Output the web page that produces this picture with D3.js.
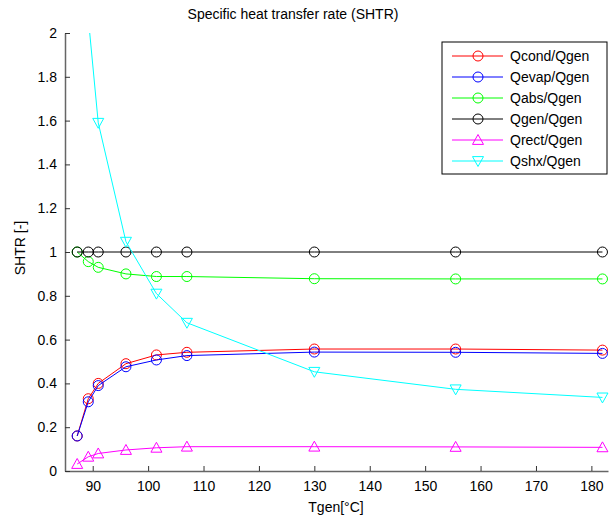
<!DOCTYPE html>
<html>
<head>
<meta charset="utf-8">
<script src="https://cdn.jsdelivr.net/npm/d3@7"></script>
<style>
  body { margin: 0; background: #fff; }
  svg { font-family: "Liberation Sans", Arial, sans-serif; }
</style>
</head>
<body>
<div id="chart"></div>
<script>
'use strict';

// ── Data ─────────────────────────────────────────────────────
const tgen = [87.2, 89.2, 91, 96, 101.5, 107, 130, 155.5, 182];

const qcond = [0.16, 0.33, 0.40, 0.49, 0.53, 0.542, 0.557, 0.557, 0.552];
const qevap = [0.16, 0.316, 0.39, 0.476, 0.507, 0.527, 0.543, 0.542, 0.537];
const qabs  = [1.0, 0.956, 0.93, 0.90, 0.888, 0.888, 0.878, 0.877, 0.877];
const qgen  = [1, 1, 1, 1, 1, 1, 1, 1, 1];
const qrect = [0.032, 0.065, 0.08, 0.096, 0.106, 0.111, 0.111, 0.11, 0.108];
const qshx  = [3.0, 2.07, 1.59, 1.047, 0.81, 0.677, 0.453, 0.373, 0.336];

const seriesNames  = ['Qcond/Qgen', 'Qevap/Qgen', 'Qabs/Qgen', 'Qgen/Qgen', 'Qrect/Qgen', 'Qshx/Qgen'];
const seriesValues = [qcond, qevap, qabs, qgen, qrect, qshx];
const seriesColors = ['#ff0000', '#0000ff', '#00ff00', '#000000', '#ff00ff', '#00ffff'];
const seriesMarker = ['circle', 'circle', 'circle', 'circle', 'triUp', 'triDown'];

const xTicks = [90, 100, 110, 120, 130, 140, 150, 160, 170, 180];
const yTicks = [0, 0.2, 0.4, 0.6, 0.8, 1, 1.2, 1.4, 1.6, 1.8, 2];

// ── Layout ───────────────────────────────────────────────────
const totalW = 609, totalH = 522;
const margin = { top: 33, right: 1, bottom: 51, left: 65 };
const W = totalW - margin.left - margin.right;
const H = totalH - margin.top - margin.bottom;

const svg = d3.select('#chart').append('svg')
  .attr('width', totalW)
  .attr('height', totalH);

const chart = svg.append('g')
  .attr('transform', `translate(${margin.left},${margin.top})`);

const x = d3.scaleLinear().domain([85, 183]).range([0, W]);
const y = d3.scaleLinear().domain([0, 2]).range([H, 0]);

svg.append('defs').append('clipPath').attr('id', 'plot-clip')
  .append('rect').attr('x', 0).attr('y', 0).attr('width', W + 6).attr('height', H);

// ── Axes (ticks inside, MATLAB style) ────────────────────────
const xAxis = chart.append('g')
  .attr('transform', `translate(0,${H})`)
  .call(d3.axisBottom(x).tickValues(xTicks).tickSizeInner(-5).tickSizeOuter(0).tickPadding(10));

const yAxis = chart.append('g')
  .call(d3.axisLeft(y).tickValues(yTicks).tickSizeInner(-5).tickSizeOuter(0).tickPadding(8)
    .tickFormat(d => d3.format('~g')(d)));

[xAxis, yAxis].forEach(a => {
  a.select('.domain').attr('stroke', '#666').attr('stroke-width', 1.5);
  a.selectAll('.tick line').attr('stroke', '#333');
  a.selectAll('.tick text').attr('font-size', 14).attr('fill', '#000')
    .attr('font-family', '"Liberation Sans", Arial, sans-serif');
});

// ── Marker shapes ────────────────────────────────────────────
function drawMarker(g, kind, cx, cy, color) {
  if (kind === 'circle') {
    g.append('circle').attr('cx', cx).attr('cy', cy).attr('r', 5)
      .attr('fill', 'none').attr('stroke', color).attr('stroke-width', 1);
  } else {
    const s = 5.5;
    const pts = kind === 'triUp'
      ? [[cx, cy - s], [cx - s, cy + s * 0.8], [cx + s, cy + s * 0.8]]
      : [[cx, cy + s], [cx - s, cy - s * 0.8], [cx + s, cy - s * 0.8]];
    g.append('polygon').attr('points', pts.map(p => p.join(',')).join(' '))
      .attr('fill', 'none').attr('stroke', color).attr('stroke-width', 1);
  }
}

// ── Series ───────────────────────────────────────────────────
const line = d3.line().x(d => x(d[0])).y(d => y(d[1]));
const plot = chart.append('g').attr('clip-path', 'url(#plot-clip)');

seriesValues.forEach((vals, i) => {
  const pts = tgen.map((t, k) => [t, vals[k]]);
  plot.append('path').datum(pts)
    .attr('d', line)
    .attr('fill', 'none')
    .attr('stroke', seriesColors[i])
    .attr('stroke-width', 1);
  const mg = plot.append('g');
  pts.filter(p => p[1] <= 2).forEach(p =>
    drawMarker(mg, seriesMarker[i], x(p[0]), y(p[1]), seriesColors[i]));
});

// ── Legend ───────────────────────────────────────────────────
const legend = svg.append('g').attr('transform', 'translate(442,42)');
legend.append('rect').attr('width', 165).attr('height', 132)
  .attr('fill', '#fff').attr('stroke', '#000').attr('stroke-width', 1);

seriesNames.forEach((name, i) => {
  const ly = 14 + i * 21;
  legend.append('line').attr('x1', 10).attr('x2', 61).attr('y1', ly).attr('y2', ly)
    .attr('stroke', seriesColors[i]).attr('stroke-width', 1);
  drawMarker(legend, seriesMarker[i], 36, ly, seriesColors[i]);
  legend.append('text').attr('x', 68).attr('y', ly + 5)
    .attr('font-size', 14).text(name);
});

// ── Labels ───────────────────────────────────────────────────
svg.append('text')
  .attr('x', 293).attr('y', 19)
  .attr('text-anchor', 'middle').attr('font-size', 14)
  .text('Specific heat transfer rate (SHTR)');

svg.append('text')
  .attr('x', 336).attr('y', 512)
  .attr('text-anchor', 'middle').attr('font-size', 14)
  .text('Tgen[°C]');

svg.append('text')
  .attr('transform', 'translate(25,248) rotate(-90)')
  .attr('text-anchor', 'middle').attr('font-size', 14)
  .text('SHTR [-]');
</script>
</body>
</html>
